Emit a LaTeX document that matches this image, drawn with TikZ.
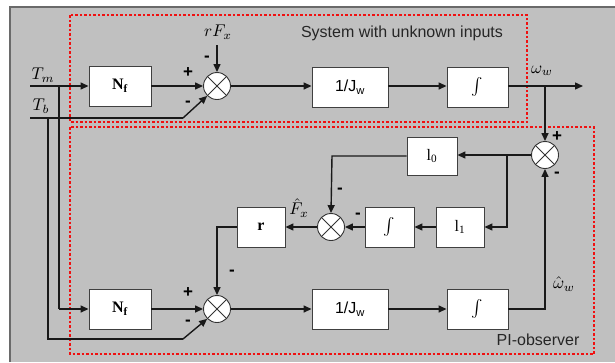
\documentclass[tikz,border=0pt]{standalone}
\usepackage{fontspec}
\setmainfont{Liberation Serif}
\setsansfont{Liberation Sans}
\usetikzlibrary{arrows.meta}
\definecolor{panel}{HTML}{C0C0C0}
\definecolor{paneledge}{HTML}{6A6A6A}
\definecolor{dred}{HTML}{F01010}
\newcommand{\bigmath}[1]{\scalebox{1.7}{$#1$}}
\tikzset{
  blk/.style={draw=black!75, fill=white, line width=0.9pt, minimum height=40pt, inner sep=0pt, font=\fontsize{16}{18}\selectfont},
  sumj/.style={circle, draw=black!80, fill=white, line width=0.9pt, minimum size=27pt, inner sep=0pt,
    path picture={\draw[line width=0.9pt, black!80] (path picture bounding box.north west) -- (path picture bounding box.south east)
      (path picture bounding box.north east) -- (path picture bounding box.south west);}},
  conn/.style={line width=1.4pt, black!90},
  arr/.style={conn, -{Triangle[length=8pt,width=7pt]}},
  sgn/.style={font=\sffamily\bfseries\fontsize{17}{18}\selectfont, inner sep=0pt},
  mlab/.style={inner sep=0pt},
  frame/.style={draw=dred, line width=2pt, dash pattern=on 2.5pt off 2pt},
  txt/.style={font=\sffamily\fontsize{16}{18}\selectfont, inner sep=0pt, text=black!85},
}
\begin{document}
\begin{tikzpicture}[x=1pt, y=-1pt]
\useasboundingbox (0,0) rectangle (615,362);
\fill[white] (0,0) rectangle (615,362);
\fill[panel] (10,7) rectangle (615,362);
\draw[paneledge, line width=1.2pt] (10,362) -- (10,7) -- (615,7);

% frames
\draw[frame] (70,15) rectangle (527,122);
\draw[frame] (70,127) rectangle (594,354);
\node[txt] (sys) at (402,33) {System with unknown inputs};
\node[txt] (pio) at (538,340) {PI-observer};

% top row
\node[blk, minimum width=62pt] (nf1) at (120,86) {\textbf{N\textsubscript{f}}};
\node[sumj] (s1) at (217,86) {};
\node[blk, minimum width=76pt, font=\sffamily\fontsize{16}{18}\selectfont] (jw1) at (350,87) {1/J\textsubscript{w}};
\node[blk, minimum width=61pt] (in1) at (477.5,87) {\bigmath{\int}};

% lower blocks
\node[sumj] (s2) at (545,155) {};
\node[blk, minimum width=50pt, minimum height=38pt] (l0) at (432,156) {l\textsubscript{0}};
\node[blk, minimum width=48pt] (l1) at (460,227) {l\textsubscript{1}};
\node[blk, minimum width=49pt] (in2) at (389.5,227) {\bigmath{\int}};
\node[sumj] (s3) at (331,227) {};
\node[blk, minimum width=48pt] (rb) at (261,227) {\textbf{r}};

% bottom row
\node[blk, minimum width=62pt] (nf2) at (120,309) {\textbf{N\textsubscript{f}}};
\node[sumj] (s4) at (217,309) {};
\node[blk, minimum width=76pt, font=\sffamily\fontsize{16}{18}\selectfont] (jw2) at (350,309) {1/J\textsubscript{w}};
\node[blk, minimum width=61pt] (in3) at (477.5,309) {\bigmath{\int}};

% coordinates
\coordinate (tmin) at (30,86);
\coordinate (tbin) at (30,118);
\coordinate (tbk) at (183,118);
\coordinate (tmj) at (59,86);
\coordinate (tbj) at (48,118);
\coordinate (tmd) at (59,309);
\coordinate (tbd) at (48,339);
\coordinate (tbk2) at (183,339);
\coordinate (rfx) at (217,45);
\coordinate (wout) at (583,86);
\coordinate (wj) at (545,86);
\coordinate (bj) at (507,155);
\coordinate (bjd) at (507,227);
\coordinate (l0c) at (332,156);
\coordinate (rc) at (217,227);
\coordinate (oc) at (545,309);

% labels
\node[mlab] (tm) at (43,75) {\bigmath{T_m}};
\node[mlab] (tb) at (41,106) {\bigmath{T_b}};
\node[mlab] (rf) at (218,32) {\bigmath{rF_x}};
\node[mlab] (om) at (542,71) {\bigmath{\omega_w}};
\node[mlab] (fh) at (299,208) {\bigmath{\hat{F}_x}};
\node[mlab] (omh) at (564,284) {\bigmath{\hat{\omega}_w}};

% signs
\node[sgn] at (188,73) {+};
\node[sgn] at (207,59) {-};
\node[sgn] at (188,104) {-};
\node[sgn] at (557,137) {+};
\node[sgn] at (557,175) {-};
\node[sgn] at (340,191) {-};
\node[sgn] at (358,216) {-};
\node[sgn] at (232,273) {-};
\node[sgn] at (188,293) {+};
\node[sgn] at (188,323) {-};

% connectors top
\draw[arr] (tmin) -- (nf1.west);
\draw[conn] (tbin) -- (tbk);
\draw[arr] (tbk) -- (s1.south west);
\draw[arr] (nf1.east) -- (s1.west);
\draw[arr] (rfx) -- (s1.north);
\draw[arr] (s1.east) -- (jw1.west |- s1.east);
\draw[arr] (jw1.east |- s1.east) -- (in1.west |- s1.east);
\draw[arr] (in1.east |- s1.east) -- (wout);
\draw[arr] (wj) -- (s2.north);

% input branches down
\draw[conn] (tmj) -- (tmd);
\draw[arr] (tmd) -- (nf2.west);
\draw[conn] (tbj) -- (tbd) -- (tbk2);
\draw[arr] (tbk2) -- (s4.south west);

% observer loop
\draw[arr] (s2.west) -- (l0.east |- s2.west);
\draw[arr] (bj) -- (bjd) -- (l1.east);
\draw[arr] (l1.west) -- (in2.east);
\draw[arr] (in2.west) -- (s3.east);
\draw[arr] (l0.west) -- (l0c) -- (s3.north);
\draw[arr] (s3.west) -- (rb.east);
\draw[arr] (rb.west) -- (rc) -- (s4.north);
\draw[arr] (nf2.east) -- (s4.west);
\draw[arr] (s4.east) -- (jw2.west);
\draw[arr] (jw2.east) -- (in3.west);
\draw[arr] (in3.east) -- (oc) -- (s2.south);
\end{tikzpicture}
\end{document}
